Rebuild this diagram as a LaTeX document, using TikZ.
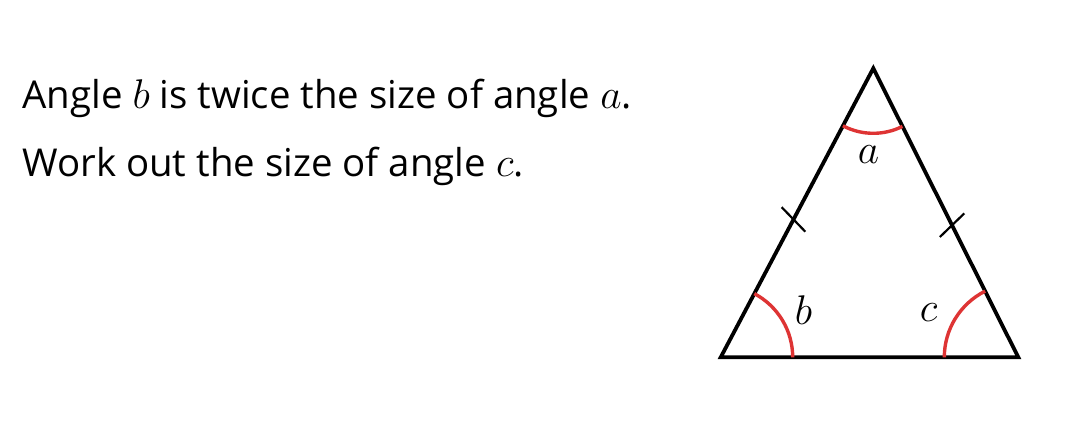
\documentclass[tikz,border=0pt]{standalone}
\usepackage{amsmath}
\usepackage{xcolor}
\usepackage{fontspec}
\setmainfont[Scale=0.96]{Open Sans}
\usepackage{tikz}
\usetikzlibrary{positioning,calc,angles}

\definecolor{arcred}{RGB}{222,52,52}

\begin{document}
\begin{tikzpicture}[x=0.5pt,y=0.5pt,
	side/.style={line width=1.9pt,line join=miter},
	angarc/.style={draw=arcred,line width=1.7pt},
	tick/.style={line width=1.1pt},
	txt/.style={anchor=base west,inner sep=0pt,font=\fontsize{20}{24}\selectfont},
	lbl/.style={inner sep=0pt,font=\fontsize{20}{24}\selectfont}]
	\useasboundingbox (0,0) rectangle (1070,436);
	% question text
	\node[txt] (q1) at (22,328) {Angle $b$ is twice the size of angle $a$.};
	\node[txt] (q2) at (22,260) {Work out the size of angle $c$.};
	% triangle
	\coordinate (A) at (873.3,367.7);
	\coordinate (B) at (720.7,78.7);
	\coordinate (C) at (1018.3,78.7);
	\draw[side] (A) -- (B) -- (C) -- cycle;
	% angle arcs
	\pic[angarc,angle radius=32.5pt] {angle = B--A--C};
	\pic[angarc,angle radius=36pt] {angle = C--B--A};
	\pic[angarc,angle radius=37pt] {angle = A--C--B};
	\node[lbl] (la) at (868.5,281) {$a$};
	\node[lbl] (lb) at (803.5,126) {$b$};
	\node[lbl] (lc) at (928.5,123) {$c$};
	% equal sides
	\coordinate (t1) at ($(B)!0.477!(A)$);
	\coordinate (t2) at ($(C)!0.457!(A)$);
	\draw[tick] ($(t1)+(-46:-17)$) -- ($(t1)+(-46:17)$);
	\draw[tick] ($(t2)+(44:-17)$) -- ($(t2)+(44:17)$);
\end{tikzpicture}
\end{document}
